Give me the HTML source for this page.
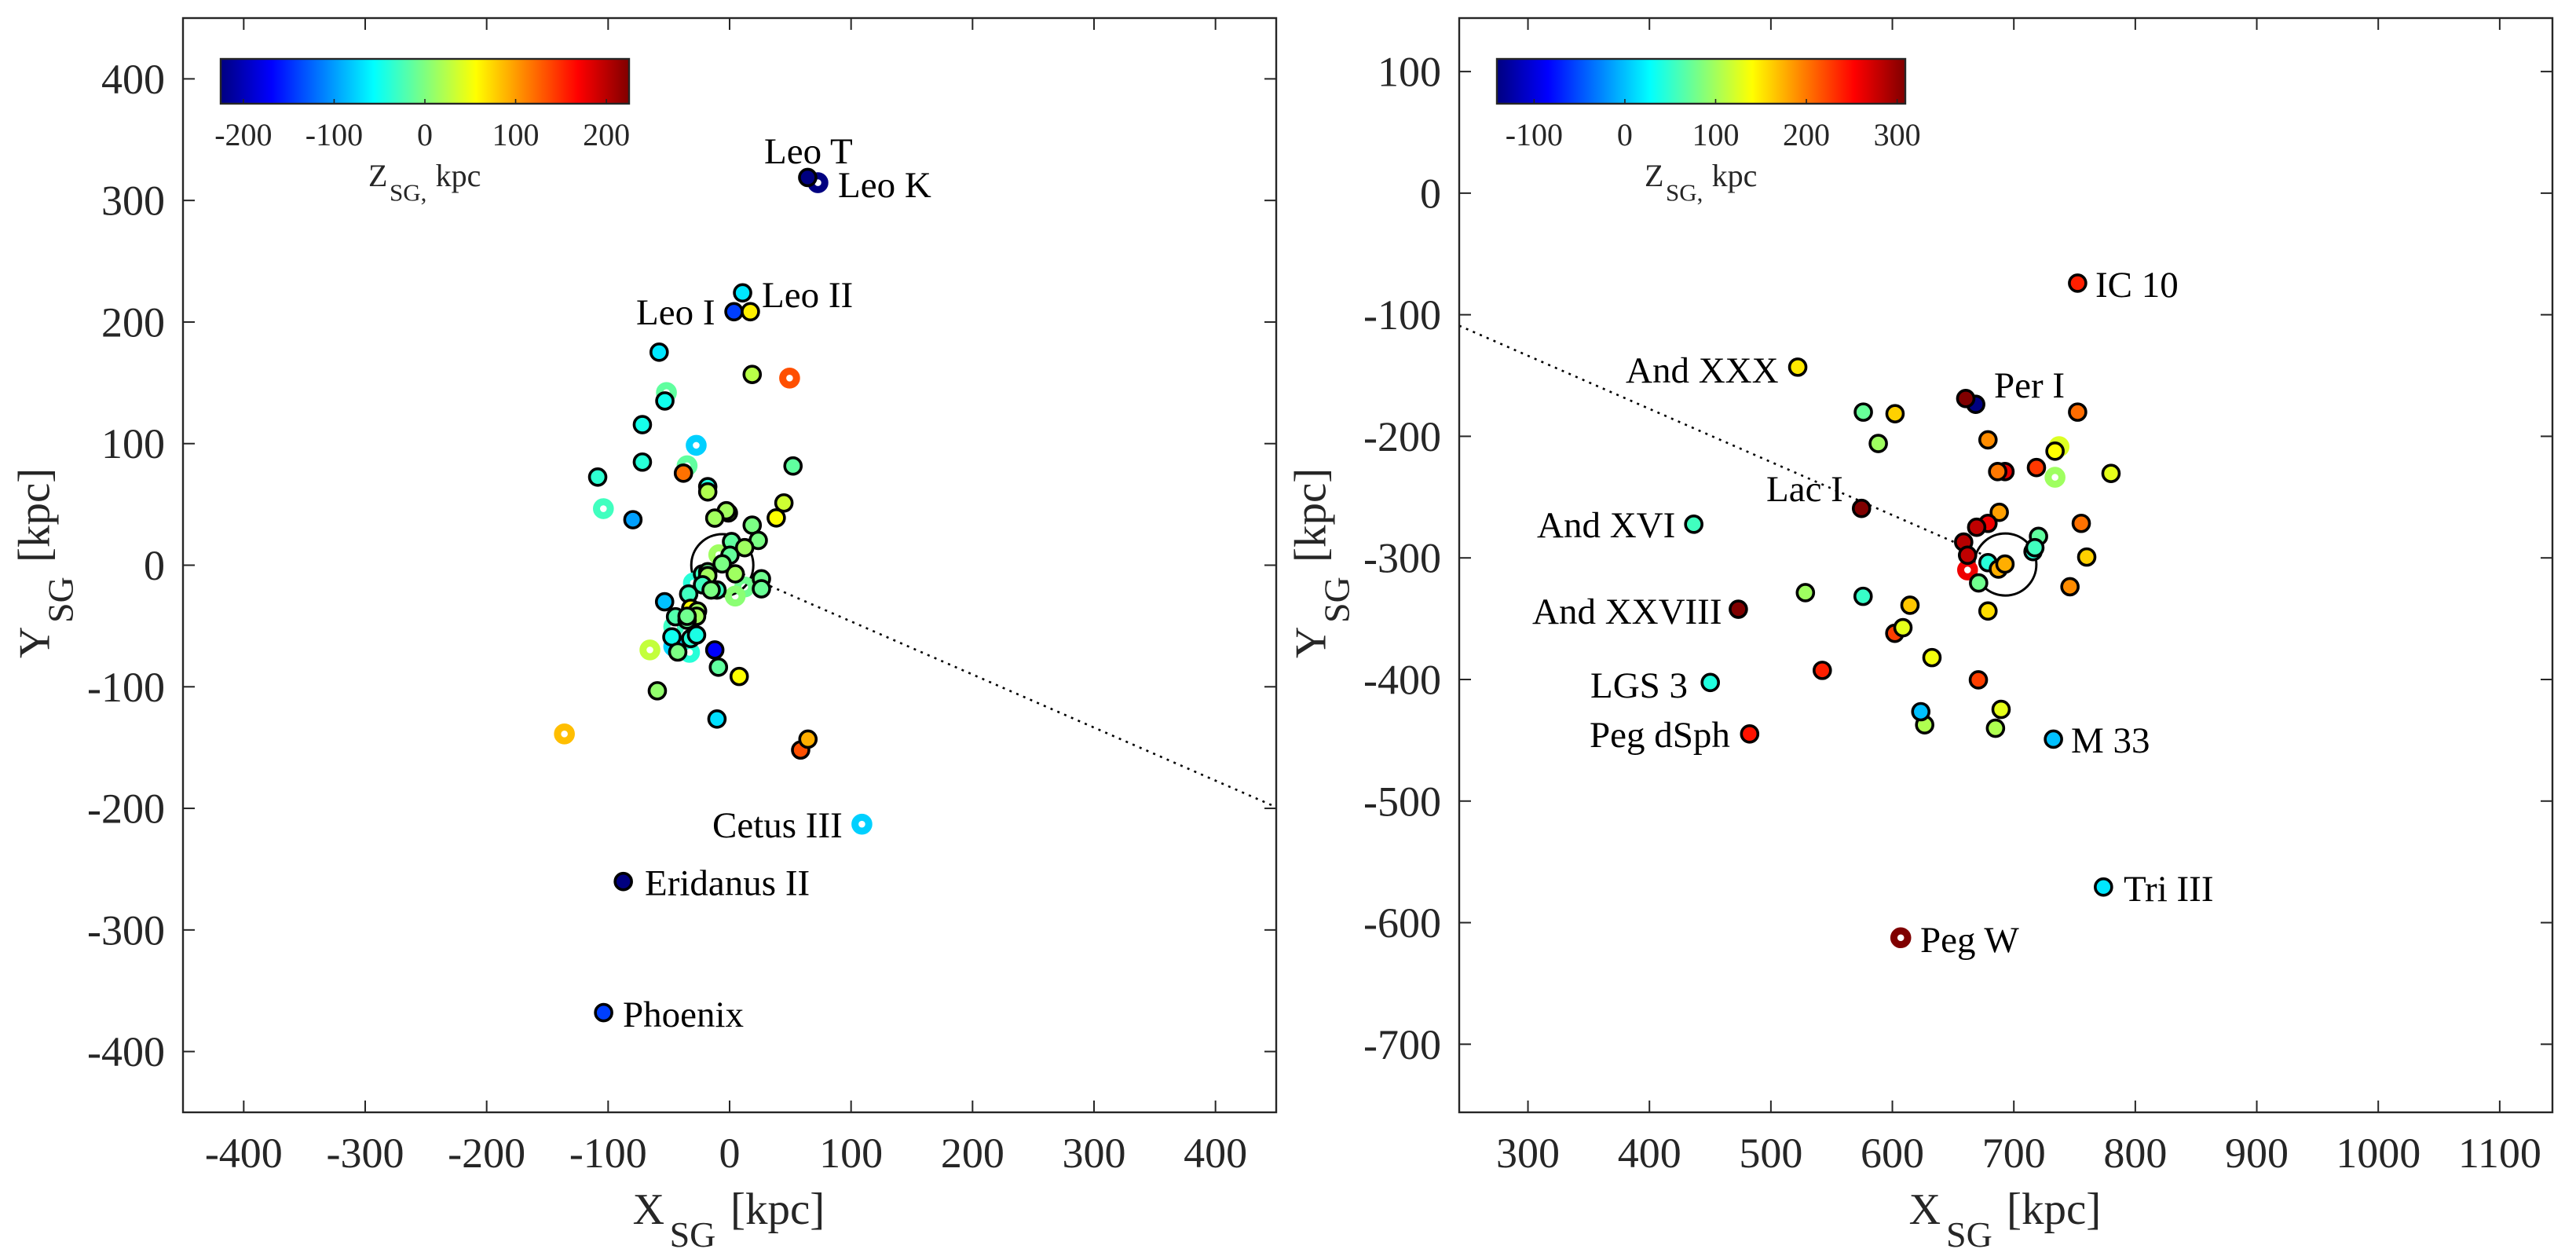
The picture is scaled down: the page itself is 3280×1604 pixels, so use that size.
<!DOCTYPE html>
<html lang="en">
<head>
<meta charset="utf-8">
<title>Satellite galaxies in supergalactic coordinates</title>
<style>
html,body{margin:0;padding:0;background:#fff;}
svg{display:block;}
text{font-family:"Liberation Serif","Times New Roman",serif;}
.lbl{font-size:47px;fill:#000;}
</style>
</head>
<body>
<svg id="chart" xmlns="http://www.w3.org/2000/svg" width="3280" height="1604" viewBox="0 0 3280 1604">
  <defs>
    <linearGradient id="jetGradient" x1="0" y1="0" x2="1" y2="0">
      <stop offset="0" stop-color="#000080"/>
      <stop offset="0.125" stop-color="#0000ff"/>
      <stop offset="0.375" stop-color="#00ffff"/>
      <stop offset="0.625" stop-color="#ffff00"/>
      <stop offset="0.875" stop-color="#ff0000"/>
      <stop offset="1" stop-color="#800000"/>
    </linearGradient>
  </defs>
  <rect x="0" y="0" width="3280" height="1604" fill="#ffffff"/>
  <g id="panelLeft"></g>
  <g id="panelRight"></g>

  <g fill="#262626">
    <text x="805.6" y="1558" font-size="56">X</text>
    <text x="852.6" y="1587" font-size="46">SG</text>
    <text x="930" y="1558" font-size="57">[kpc]</text>
  </g>
  <g fill="#262626" transform="translate(62.7,838) rotate(-90)">
    <text x="0" y="0" font-size="56">Y</text>
    <text x="45" y="30" font-size="46">SG</text>
    <text x="122" y="0" font-size="57">[kpc]</text>
  </g>
  <g fill="#262626">
    <text x="469" y="237" font-size="40">Z</text>
    <text x="496" y="255.5" font-size="31">SG,</text>
    <text x="554.6" y="237" font-size="40">kpc</text>
  </g>

  <g fill="#262626">
    <text x="2430.6" y="1558" font-size="56">X</text>
    <text x="2478" y="1587" font-size="46">SG</text>
    <text x="2555" y="1558" font-size="57">[kpc]</text>
  </g>
  <g fill="#262626" transform="translate(1687.7,838) rotate(-90)">
    <text x="0" y="0" font-size="56">Y</text>
    <text x="45" y="30" font-size="46">SG</text>
    <text x="122" y="0" font-size="57">[kpc]</text>
  </g>
  <g fill="#262626">
    <text x="2094" y="237" font-size="40">Z</text>
    <text x="2121" y="255.5" font-size="31">SG,</text>
    <text x="2179.6" y="237" font-size="40">kpc</text>
  </g>

  <g>
    <text class="lbl" x="973" y="208">Leo T</text>
    <text class="lbl" x="1067" y="251">Leo K</text>
    <text class="lbl" x="970" y="391">Leo II</text>
    <text class="lbl" x="810" y="413">Leo I</text>
    <text class="lbl" x="907" y="1066">Cetus III</text>
    <text class="lbl" x="821" y="1139.5">Eridanus II</text>
    <text class="lbl" x="793" y="1307">Phoenix</text>
  </g>
  <g>
    <text class="lbl" x="2668" y="378">IC 10</text>
    <text class="lbl" x="2070" y="487">And XXX</text>
    <text class="lbl" x="2539" y="506">Per I</text>
    <text class="lbl" x="2249" y="638">Lac I</text>
    <text class="lbl" x="1957" y="684">And XVI</text>
    <text class="lbl" x="1951" y="794">And XXVIII</text>
    <text class="lbl" x="2025" y="888">LGS 3</text>
    <text class="lbl" x="2024" y="951">Peg dSph</text>
    <text class="lbl" x="2637" y="958">M 33</text>
    <text class="lbl" x="2704" y="1147">Tri III</text>
    <text class="lbl" x="2445" y="1212">Peg W</text>
  </g>
</svg>
<script>
// ---------- Left panel data (kpc) ----------
const leftTicks = [-400,-300,-200,-100,0,100,200,300,400];
const leftBarTicks = [-200,-100,0,100,200];
const leftRingX = [72.7,49.4,-52,-27.5,-35,-103.9,-8.9,-29.8,12.4,4.6,-65.6,-33,-46,-46,-136,108.9];
const leftRingY = [314.6,153.9,142,98.6,81.8,46.5,8.6,-14.6,-17.9,-25.4,-69.7,-71.7,-66.7,-50.6,-138.8,-213];
const leftRingZ = [-225,134,-14,-77,-14,-28,14,-39,-7,5,30,-39,-75,-30,85,-77];
const leftDiskX = [64.3,10.7,3.6,17.1,-58,18.6,-53.3,-71.8,-71.8,52.2,-108.6,-38,-18,-18,-79.6,44.7,38.4,-1,-2.7,-12.2,18.6,23.6,1.6,0.3,12.4,-6.1,4.6,-22.3,-18,-18,26.2,26.2,-22.3,-10.4,-15.2,-33.7,-53.5,-32,-26.4,-27.2,-44.5,-35,-35,-47.5,-32,-27.2,-42.7,-12.2,-9.2,7.9,-59.5,-10.4,58.5,64.5,-87.5,-103.7];
const leftDiskY = [318.9,224,208.5,208.5,175.2,156.9,135.1,115.6,84.8,81.6,72.5,75.7,64.6,60.3,37.4,51.2,38.9,43,44.8,38.7,32.9,20.4,19.4,8.2,14.4,1.1,-7.1,-7.1,-5.4,-8.6,-11.2,-19.4,-16.1,-20.4,-20.4,-23.7,-30.1,-35.5,-37.7,-42,-42.4,-45.2,-42,-59,-60.3,-57.4,-71.4,-69.7,-83.9,-91.5,-103.3,-126.5,-152,-143.1,-260.2,-368];
const leftDiskZ = [-225,-67,-141,63,-67,25,-49,-47,-39,-14,-36,119,-42,22,-98,34,56,15,15,15,-2,-2,-14,-12,14,-2,14,-28,-7,15,-7,-10,-28,-28,-2,-28,-84,56,15,15,-20,-10,-7,-49,-39,-45,-2,-169,-14,56,8,-70,134,92,-225,-141];
const leftCircleCenter = [-6,0];
const leftLineX = [-6,450];
const leftLineY = [0,-199];

// ---------- Right panel data (kpc) ----------
const rightXTicks = [300,400,500,600,700,800,900,1000,1100];
const rightYTicks = [100,0,-100,-200,-300,-400,-500,-600,-700];
const rightBarTicks = [-100,0,100,200,300];
const rightRingX = [737.2,733.9,661.9,606.9];
const rightRingY = [-208.5,-233.7,-309.9,-612.4];
const rightRingZ = [125,98,260,309];
const rightDiskX = [668.6,660.4,576.1,602.2,752.5,588.4,678.7,733.9,692.7,686.7,718.6,780,574.6,688,678.7,669.4,658.7,661.9,720.3,715.8,717.3,755.5,678.7,687.3,692.7,671,575.9,614.5,678.7,746.2,760,473.2,528.4,602,608.7,632.6,542.3,670.8,450.1,482.5,626.6,623.4,689.5,684.9,732.6,752.5,522.1,436.5,773.8];
const rightDiskY = [-173.7,-168.9,-180.1,-181.4,-180.1,-205.9,-202.9,-212.2,-229,-229,-225.7,-230.5,-259.3,-262.5,-271.6,-274.8,-287,-297.8,-282.3,-294.8,-291.6,-271.6,-303.9,-309.2,-305.1,-320.6,-331.6,-338.9,-343.7,-323.7,-299.3,-342.2,-328.6,-362,-357.4,-382,-392.5,-400.3,-402.5,-444.8,-437.3,-426.5,-424.6,-440.1,-449.1,-74,-143.1,-272.3,-570.7];
const rightDiskZ = [-141,309,73,161,205,98,191,140,265,200,228,129,309,182,260,281,285,281,70,45,56,203,45,176,176,77,52,165,155,191,161,309,98,225,129,135,239,225,42,245,105,0,129,105,0,239,150,56,17];
const rightCircleCenter = [693,-305.4];
const rightLineX = [243.4,693];
const rightLineY = [-109,-305.4];

// ---------- Drawing ----------
const NS = 'http://www.w3.org/2000/svg';
const INK = '#262626';

function make(parent, tag, props) {
  const el = document.createElementNS(NS, tag);
  for (const k in props) el.setAttribute(k, props[k]);
  parent.appendChild(el);
  return el;
}

function clamp01(v) { return Math.max(0, Math.min(1, v)); }

function jet(t) {
  const r = clamp01(Math.min(4 * t - 1.5, -4 * t + 4.5));
  const g = clamp01(Math.min(4 * t - 0.5, -4 * t + 3.5));
  const b = clamp01(Math.min(4 * t + 0.5, -4 * t + 2.5));
  return 'rgb(' + Math.round(r * 255) + ',' + Math.round(g * 255) + ',' + Math.round(b * 255) + ')';
}

function drawPanel(g, cfg) {
  const box = cfg.box;
  const sx = v => box.left + (v - cfg.xlim[0]) / (cfg.xlim[1] - cfg.xlim[0]) * (box.right - box.left);
  const sy = v => box.top + (cfg.ylim[1] - v) / (cfg.ylim[1] - cfg.ylim[0]) * (box.bottom - box.top);
  const bx = v => cfg.bar.left + (v - cfg.clim[0]) / (cfg.clim[1] - cfg.clim[0]) * (cfg.bar.right - cfg.bar.left);
  const color = z => jet((z - cfg.clim[0]) / (cfg.clim[1] - cfg.clim[0]));

  // guide line
  const guide = make(g, 'line', {x1: sx(cfg.lineX[0]), y1: sy(cfg.lineY[0]), x2: sx(cfg.lineX[1]), y2: sy(cfg.lineY[1]), stroke: '#000', 'stroke-width': 2.6, 'stroke-dasharray': '3 6.5', fill: 'none'});
  
  

  // host circle
  const host = make(g, 'circle', {cx: sx(cfg.center[0]), cy: sy(cfg.center[1]), r: 39.5, fill: 'none', stroke: '#000', 'stroke-width': 3});
  
  

  // open ring markers
  cfg.ringX.forEach((x, i) => {
    const c = make(g, 'circle', {cx: sx(x), cy: sy(cfg.ringY[i]), r: 8.8, fill: 'none', stroke: color(cfg.ringZ[i]), 'stroke-width': 9});
    
    
  });

  // filled markers
  cfg.diskX.forEach((x, i) => {
    const c = make(g, 'circle', {cx: sx(x), cy: sy(cfg.diskY[i]), r: 10.5, fill: color(cfg.diskZ[i]), stroke: '#000', 'stroke-width': 3.6});
    
    
  });

  // axes box
  const frame = make(g, 'rect', {x: box.left, y: box.top, width: box.right - box.left, height: box.bottom - box.top, fill: 'none', stroke: INK, 'stroke-width': 2.4});
  
  

  const tickLen = 15;
  cfg.xTicks.forEach(v => {
    const x = sx(v);
    const t1 = make(g, 'line', {x1: x, x2: x, y1: box.top, y2: box.top + tickLen, stroke: INK, 'stroke-width': 2});
    
    
    const t2 = make(g, 'line', {x1: x, x2: x, y1: box.bottom, y2: box.bottom - tickLen, stroke: INK, 'stroke-width': 2});
    
    
    const lab = make(g, 'text', {x: x, y: 1486, 'text-anchor': 'middle', 'font-size': 54, fill: INK});
    lab.textContent = String(v);
    
    
  });
  cfg.yTicks.forEach(v => {
    const y = sy(v);
    const t1 = make(g, 'line', {x1: box.left, x2: box.left + tickLen, y1: y, y2: y, stroke: INK, 'stroke-width': 2});
    
    
    const t2 = make(g, 'line', {x1: box.right, x2: box.right - tickLen, y1: y, y2: y, stroke: INK, 'stroke-width': 2});
    
    
    const lab = make(g, 'text', {x: box.left - 23, y: y + 18.5, 'text-anchor': 'end', 'font-size': 54, fill: INK});
    lab.textContent = String(v);
    
    
  });

  // colorbar
  const bar = cfg.bar;
  const barRect = make(g, 'rect', {x: bar.left, y: bar.top, width: bar.right - bar.left, height: bar.bottom - bar.top, fill: 'url(#jetGradient)', stroke: INK, 'stroke-width': 2.4});
  
  
  cfg.barTicks.forEach(v => {
    const x = bx(v);
    const t = make(g, 'line', {x1: x, x2: x, y1: bar.bottom, y2: bar.bottom - 6, stroke: INK, 'stroke-width': 1.6});
    
    
    const lab = make(g, 'text', {x: x, y: 185, 'text-anchor': 'middle', 'font-size': 40, fill: INK});
    lab.textContent = String(v);
    
    
  });
}

drawPanel(document.getElementById('panelLeft'), {
  box: {left: 233, right: 1625, top: 23, bottom: 1416},
  xlim: [-450, 450], ylim: [-450, 450], clim: [-225, 225],
  bar: {left: 281, right: 801, top: 75, bottom: 132},
  xTicks: leftTicks, yTicks: leftTicks, barTicks: leftBarTicks,
  ringX: leftRingX, ringY: leftRingY, ringZ: leftRingZ,
  diskX: leftDiskX, diskY: leftDiskY, diskZ: leftDiskZ,
  center: leftCircleCenter, lineX: leftLineX, lineY: leftLineY
});

drawPanel(document.getElementById('panelRight'), {
  box: {left: 1858, right: 3250, top: 23, bottom: 1416},
  xlim: [243.4, 1143.4], ylim: [-756, 144], clim: [-141, 309],
  bar: {left: 1906, right: 2426, top: 75, bottom: 132},
  xTicks: rightXTicks, yTicks: rightYTicks, barTicks: rightBarTicks,
  ringX: rightRingX, ringY: rightRingY, ringZ: rightRingZ,
  diskX: rightDiskX, diskY: rightDiskY, diskZ: rightDiskZ,
  center: rightCircleCenter, lineX: rightLineX, lineY: rightLineY
});
</script>
</body>
</html>
